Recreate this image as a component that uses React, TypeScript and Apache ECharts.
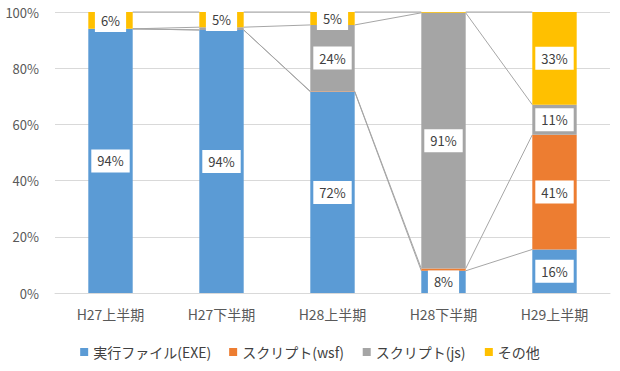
import React, { useEffect, useRef } from "react";
import * as echarts from "echarts";

const categories = ["H27上半期", "H27下半期", "H28上半期", "H28下半期", "H29上半期"];
const seriesNames = ["実行ファイル(EXE)", "スクリプト(wsf)", "スクリプト(js)", "その他"];
const exeValues = [94.0, 93.6, 71.6, 7.9, 15.5];
const wsfValues = [0, 0, 0.2, 0.8, 40.8];
const jsValues = [0, 1.0, 23.6, 91.0, 10.7];
const otherValues = [6.0, 5.4, 4.6, 0.3, 33.0];
const yTicks = [0, 20, 40, 60, 80, 100];
const colors = ["#5B9BD5", "#ED7D31", "#A5A5A5", "#FFC000"];

const FONT = "'Noto Sans CJK JP', 'Noto Sans', sans-serif";

export default function App() {
  const ref = useRef<HTMLDivElement>(null);
  useEffect(() => {
    if (!ref.current) return;
    const chart = echarts.init(ref.current, null, { renderer: "svg" });
    const all = [exeValues, wsfValues, jsValues, otherValues];
    const cum: number[][] = [];
    all.forEach((arr, s) => {
      cum.push(arr.map((v, i) => (s === 0 ? v : cum[s - 1][i] + v)));
    });
    const lineData: number[][] = [];
    cum.forEach((arr) => {
      for (let i = 0; i < arr.length - 1; i++) lineData.push([i, arr[i], arr[i + 1]]);
    });
    const barRatio = 0.4;
    const barSeries = all.map((arr, s) => ({
      type: "bar",
      name: seriesNames[s],
      stack: "total",
      barCategoryGap: "60%",
      data: arr.map((v) => (v >= 3 ? v : { value: v, label: { show: false } })),
      itemStyle: { color: colors[s] },
      label: {
        show: true,
        position: "inside",
        formatter: (p: any) => Math.round(p.value) + "%",
        backgroundColor: "#ffffff",
        color: "#404040",
        fontSize: 13,
        fontFamily: FONT,
        padding: [5, 6],
      },
      z: 2,
    }));
    const option: any = {
      animation: false,
      color: colors,
      grid: { left: 55, right: 10, top: 12, bottom: 78, containLabel: false },
      legend: {
        bottom: 7,
        left: "center",
        data: seriesNames,
        icon: "rect",
        itemWidth: 8,
        itemHeight: 8,
        itemGap: 18,
        textStyle: { color: "#404040", fontSize: 14, fontFamily: FONT },
      },
      xAxis: {
        type: "category",
        data: categories,
        axisLine: { lineStyle: { color: "#d9d9d9" } },
        axisTick: { show: false },
        axisLabel: { color: "#595959", fontSize: 14, fontFamily: FONT, margin: 14 },
      },
      yAxis: {
        type: "value",
        min: 0,
        max: 100,
        interval: 20,
        axisLine: { show: false },
        axisTick: { show: false },
        splitLine: { lineStyle: { color: "#d9d9d9" } },
        axisLabel: {
          color: "#595959",
          fontSize: 13,
          fontFamily: FONT,
          margin: 16,
          formatter: (v: number) => (yTicks.includes(v) ? v + "%" : ""),
        },
      },
      series: [
        ...barSeries,
        {
          type: "custom",
          name: "lines",
          data: lineData,
          encode: { x: 0, y: 1 },
          z: 1,
          silent: true,
          renderItem: (params: any, api: any) => {
            const i = api.value(0);
            const p0 = api.coord([i, api.value(1)]);
            const p1 = api.coord([i + 1, api.value(2)]);
            const band = api.size([1, 0])[0];
            const hb = (band * barRatio) / 2;
            return {
              type: "line",
              shape: { x1: p0[0] + hb, y1: p0[1], x2: p1[0] - hb, y2: p1[1] },
              style: { stroke: "#a6a6a6", lineWidth: 1 },
            };
          },
        },
      ],
    };
    chart.setOption(option);
    return () => chart.dispose();
  }, []);
  return (
    <div
      ref={ref}
      style={{ position: "absolute", left: 0, top: 0, width: 620, height: 371, background: "#fff" }}
    />
  );
}
